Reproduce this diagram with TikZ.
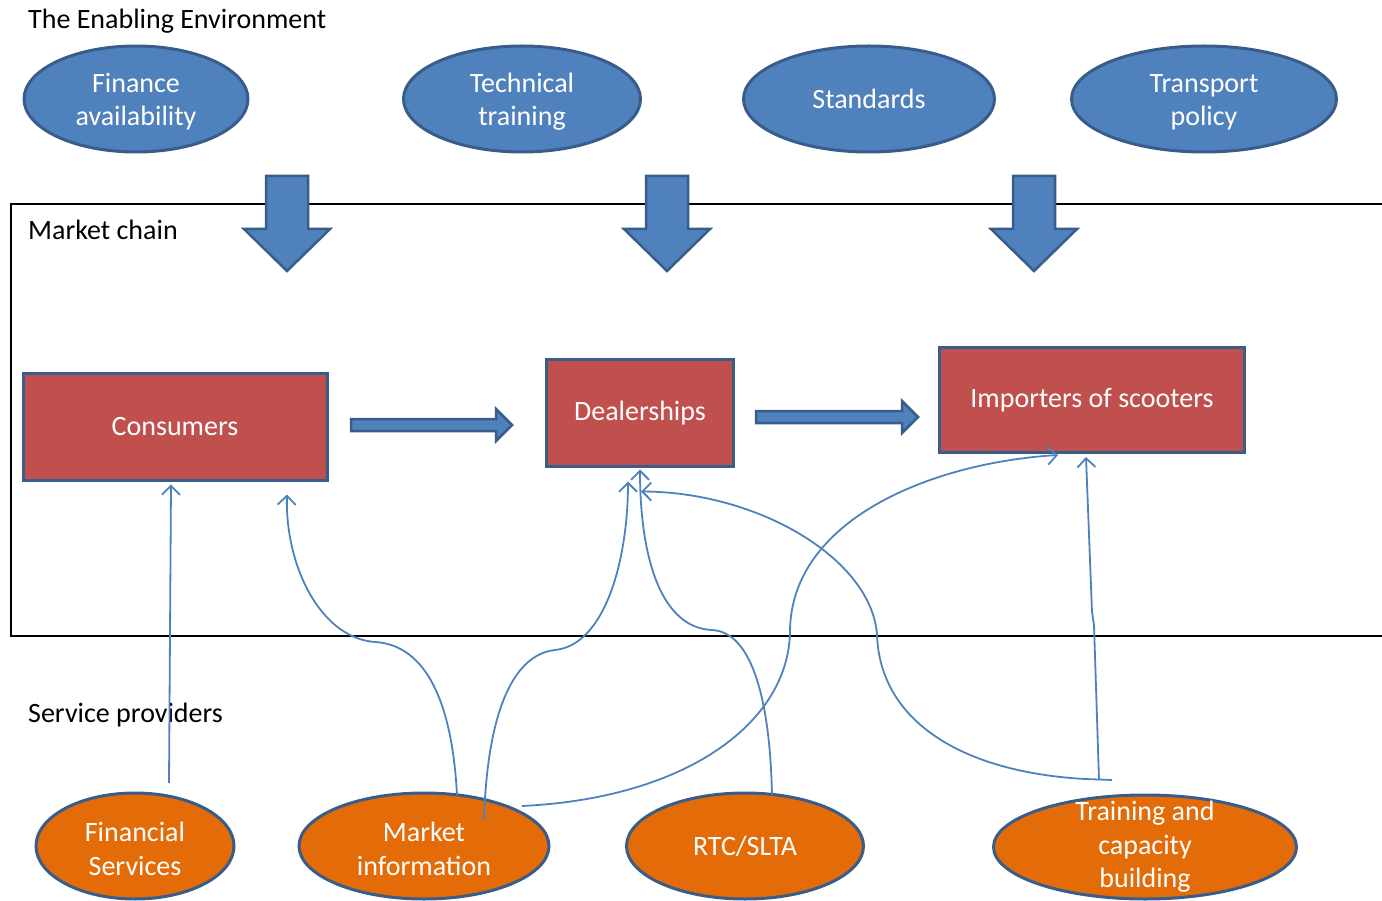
\documentclass[tikz,border=0pt]{standalone}
\usepackage{fontspec}
\setmainfont{Carlito}
\usetikzlibrary{arrows.meta,calc,shapes.geometric}
\definecolor{envblue}{HTML}{4F81BD}
\definecolor{edgeblue}{HTML}{385D8A}
\definecolor{chainred}{HTML}{C0504D}
\definecolor{provorange}{HTML}{E36C09}
% taller first line, so two-line labels sit a little lower
\newcommand{\toprule}{\rule{0pt}{25pt}}
\tikzset{
  lbl/.style={anchor=west,inner sep=0,font=\fontsize{28}{33}\selectfont},
  envell/.style={ellipse,draw=edgeblue,line width=3pt,fill=envblue,text=white,inner sep=0,
    align=center,font=\fontsize{28}{33.5}\selectfont},
  provell/.style={ellipse,draw=edgeblue,line width=3pt,fill=provorange,text=white,inner sep=0,
    align=center,font=\fontsize{28}{33.5}\selectfont},
  chainbox/.style={rectangle,draw=edgeblue,line width=3pt,fill=chainred,text=white,inner sep=0,
    align=center,font=\fontsize{28}{33.5}\selectfont},
  blockarrow/.style={draw=edgeblue,line width=2.5pt,fill=envblue,line join=miter},
  link/.style={draw=envblue,line width=1.8pt,-{Straight Barb[length=9pt,width=18pt,line width=1.8pt]}},
  plainlink/.style={draw=envblue,line width=1.8pt}
}
\begin{document}
\begin{tikzpicture}[x=1pt,y=-1pt]
\useasboundingbox (0,0) rectangle (1382,901);

% market chain frame, open on the right
\draw[line width=2pt] (1382,204) -- (11,204) -- (11,636) -- (1382,636);

% section labels
\node[lbl] (tenv) at (28,21) {The Enabling Environment};
\node[lbl] (tchain) at (28,230) {Market chain};
\node[lbl] (tserv) at (28,715) {Service providers};

% enabling environment
\node[envell,minimum width=224pt,minimum height=106pt] (fin) at (136,99) {\toprule Finance\\availability};
\node[envell,minimum width=237pt,minimum height=106pt] (tech) at (522,99) {\toprule Technical\\training};
\node[envell,minimum width=251pt,minimum height=106pt] (std) at (869,99) {Standards};
\node[envell,minimum width=265pt,minimum height=106pt] (trans) at (1204,99) {\toprule Transport\\policy};

% downward block arrows
\foreach \cx in {287,667,1034}{
  \draw[blockarrow] (\cx-21,176) -- (\cx+21,176) -- (\cx+21,229) -- (\cx+43,229) -- (\cx,271)
    -- (\cx-43,229) -- (\cx-21,229) -- cycle;
}

% market chain actors
\node[chainbox,minimum width=304pt,minimum height=106pt] (cons) at (175,427) {Consumers};
\node[chainbox,minimum width=187pt,minimum height=106pt] (deal) at (640,413) {Dealerships};
\node[chainbox,minimum width=305pt,minimum height=105pt] (imp) at (1092,400) {Importers of scooters};

% rightward block arrows
\draw[blockarrow] (351,419) -- (496,419) -- (496,409) -- (512,425) -- (496,441) -- (496,431) -- (351,431) -- cycle;
\draw[blockarrow] (756,411) -- (902,411) -- (902,401) -- (918,417) -- (902,433) -- (902,423) -- (756,423) -- cycle;

% service providers
\node[provell,minimum width=198pt,minimum height=106pt] (fs) at (135,846) {\toprule Financial\\Services};
\node[provell,minimum width=250pt,minimum height=106pt] (mi) at (424,846) {\toprule Market\\information};
\node[provell,minimum width=237pt,minimum height=106pt] (rtc) at (745,846) {RTC/SLTA};
\node[provell,minimum width=303pt,minimum height=104pt,inner sep=-13pt] (tcb) at (1145,847) {Training and\\capacity\\building};

% connector start points
\coordinate (fsA) at (169,783);
\coordinate (miA) at (457,795);
\coordinate (miB) at (484,820);
\coordinate (miC) at (522,806);
\coordinate (rtcA) at (772,795);
\coordinate (tcbT) at (1112,780);
\coordinate (tcbJ) at (1099,780);

% support links
\draw[link] (fsA) -- ([xshift=-4pt,yshift=-3pt]cons.south);
\draw[link] (miA) .. controls (452,700) and (425,645) .. (375,642)
  .. controls (320,638) and (285,565) .. ([xshift=112pt,yshift=-13pt]cons.south);
\draw[link] (miB) .. controls (487,720) and (510,655) .. (555,650)
  .. controls (605,645) and (628,560) .. ([xshift=-12pt,yshift=-14pt]deal.south);
\draw[link] (miC) .. controls (690,798) and (790,720) .. (790,630)
  .. controls (792,520) and (930,463) .. ([xshift=-34pt,yshift=-1pt]imp.south);
\draw[link] (rtcA) .. controls (770,700) and (752,632) .. (712,630)
  .. controls (662,628) and (640,560) .. ([yshift=-2pt]deal.south);
\draw[plainlink] (tcbT) -- (1085,779);
\draw[link] (1085,779) .. controls (960,772) and (880,720) .. (877,635)
  .. controls (872,560) and (760,492) .. ([xshift=1pt,yshift=-24pt]deal.south);
\draw[link] (tcbJ) -- (1094,625) -- (1092,612) -- ([xshift=-6pt,yshift=-3pt]imp.south);
\end{tikzpicture}
\end{document}
